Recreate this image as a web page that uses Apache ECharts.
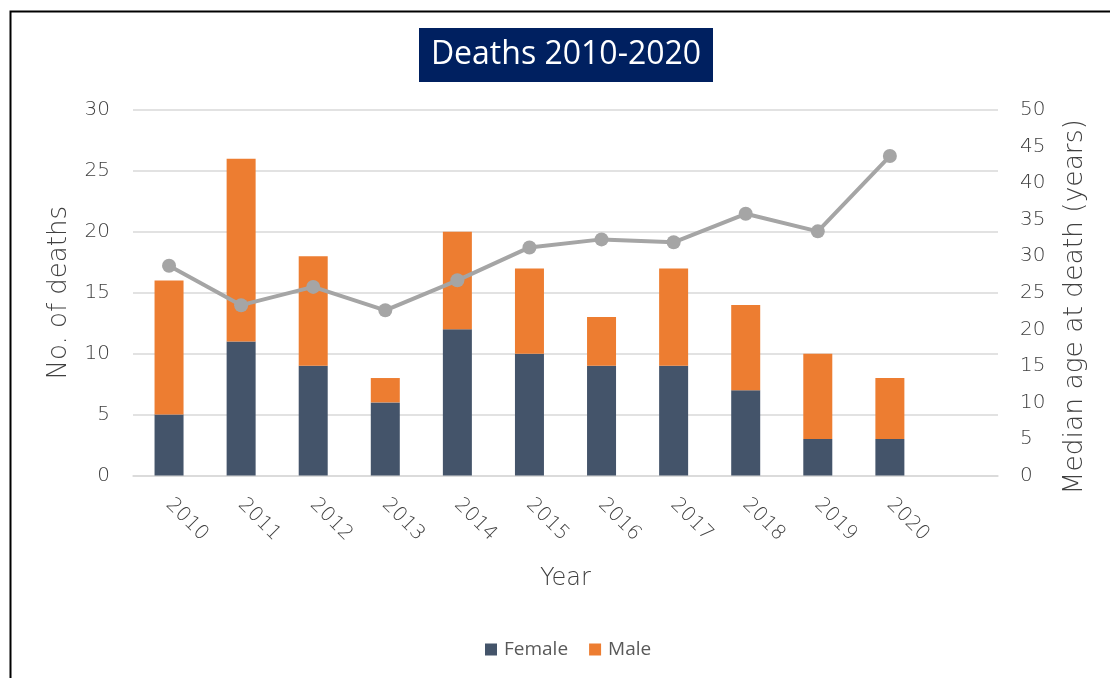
<!DOCTYPE html>
<html>
<head>
<meta charset="utf-8">
<style>
  html, body { margin: 0; padding: 0; background: #ffffff; }
  #chart { width: 1110px; height: 678px; }
</style>
<script src="https://cdn.jsdelivr.net/npm/echarts@6/dist/echarts.min.js"></script>
</head>
<body>
<div id="chart"></div>
<script>
// Deaths per year, split by sex, with median age at death on a second axis
const years = ['2010', '2011', '2012', '2013', '2014', '2015', '2016', '2017', '2018', '2019', '2020', ''];
const female = [5, 11, 9, 6, 12, 10, 9, 9, 7, 3, 3];
const male = [11, 15, 9, 2, 8, 7, 4, 8, 7, 7, 5];
const medianAge = [28.7, 23.3, 25.8, 22.6, 26.7, 31.2, 32.3, 31.9, 35.8, 33.4, 43.7];

const axisFont = '"DejaVu Sans", sans-serif';
const axisWeight = 200;
const textGrey = '#404040';
const gridGrey = '#D9D9D9';

const chart = echarts.init(document.getElementById('chart'), null, { renderer: 'canvas' });

chart.setOption({
  backgroundColor: '#ffffff',
  animation: false,
  graphic: [
    {
      type: 'rect',
      shape: { x: 10.5, y: 11.5, width: 1300, height: 1000 },
      style: { fill: 'none', stroke: '#000000', lineWidth: 2 },
      silent: true
    },
    {
      type: 'rect',
      shape: { x: 419, y: 28, width: 294, height: 54 },
      style: { fill: '#002060' },
      silent: true
    },
    {
      type: 'text',
      x: 566,
      y: 55,
      style: {
        text: 'Deaths 2010-2020',
        fill: '#ffffff',
        font: '32px "Open Sans", "Noto Sans", sans-serif',
        textAlign: 'center',
        textVerticalAlign: 'middle'
      },
      silent: true
    }
  ],
  legend: {
    left: 480,
    top: 635,
    itemWidth: 12,
    itemHeight: 12,
    itemGap: 21,
    icon: 'rect',
    data: ['Female', 'Male'],
    textStyle: { color: '#595959', fontSize: 19, fontFamily: '"Open Sans", sans-serif', padding: [0, 0, 0, 2] }
  },
  grid: { left: 133, right: 112, top: 110, bottom: 202.5, containLabel: false },
  xAxis: {
    type: 'category',
    data: years,
    name: 'Year',
    nameLocation: 'middle',
    nameGap: 91,
    nameTextStyle: { color: textGrey, fontSize: 24, fontFamily: axisFont, fontWeight: axisWeight },
    axisLine: { show: true, lineStyle: { color: gridGrey, width: 1.5 } },
    axisTick: { show: false },
    axisLabel: {
      rotate: -45,
      interval: 0,
      margin: 26,
      color: textGrey,
      fontSize: 20,
      fontFamily: axisFont,
      fontWeight: axisWeight
    }
  },
  yAxis: [
    {
      type: 'value',
      min: 0,
      max: 30,
      interval: 5,
      name: 'No. of deaths',
      nameLocation: 'middle',
      nameGap: 61,
      nameTextStyle: { color: textGrey, fontSize: 26, fontFamily: axisFont, fontWeight: axisWeight },
      axisLine: { show: false },
      axisTick: { show: false },
      axisLabel: { color: textGrey, fontSize: 20, fontFamily: axisFont, fontWeight: axisWeight, margin: 23 },
      splitLine: { lineStyle: { color: gridGrey, width: 1.5 } }
    },
    {
      type: 'value',
      min: 0,
      max: 50,
      interval: 5,
      position: 'right',
      name: 'Median age at death (years)',
      nameLocation: 'middle',
      nameGap: 64,
      nameTextStyle: {
        color: textGrey,
        fontSize: 26.5,
        fontFamily: axisFont,
        fontWeight: axisWeight,
        padding: [0, 28, 0, 0]
      },
      axisLine: { show: false },
      axisTick: { show: false },
      axisLabel: { color: textGrey, fontSize: 20, fontFamily: axisFont, fontWeight: axisWeight, margin: 22 },
      splitLine: { show: false }
    }
  ],
  series: [
    {
      name: 'Female',
      type: 'bar',
      stack: 'deaths',
      barWidth: 29,
      data: female,
      itemStyle: { color: '#44546A' }
    },
    {
      name: 'Male',
      type: 'bar',
      stack: 'deaths',
      barWidth: 29,
      data: male,
      itemStyle: { color: '#ED7D31' }
    },
    {
      name: 'Median age',
      type: 'line',
      yAxisIndex: 1,
      data: medianAge,
      symbol: 'circle',
      symbolSize: 14,
      lineStyle: { color: '#A5A5A5', width: 4 },
      itemStyle: { color: '#A5A5A5' },
      z: 5
    }
  ]
});
</script>
</body>
</html>
